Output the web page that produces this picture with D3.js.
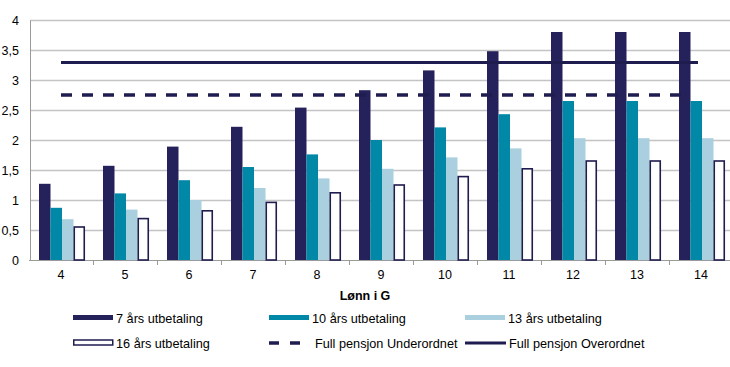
<!DOCTYPE html>
<html>
<head>
<meta charset="utf-8">
<script src="https://cdn.jsdelivr.net/npm/d3@7"></script>
<style>
  body { margin: 0; background: #fff; }
  text { font-family: "Liberation Sans", Arial, sans-serif; fill: #000; }
</style>
</head>
<body>
<div id="chart"></div>
<script>
// Data
var categories = ["4", "5", "6", "7", "8", "9", "10", "11", "12", "13", "14"];
var seriesNames = ["7 års utbetaling", "10 års utbetaling", "13 års utbetaling", "16 års utbetaling"];
var years7  = [1.27, 1.57, 1.89, 2.22, 2.54, 2.83, 3.16, 3.48, 3.80, 3.80, 3.80];
var years10 = [0.87, 1.11, 1.33, 1.55, 1.76, 2.00, 2.21, 2.43, 2.65, 2.65, 2.65];
var years13 = [0.68, 0.84, 1.00, 1.20, 1.36, 1.52, 1.71, 1.86, 2.03, 2.03, 2.03];
var years16 = [0.55, 0.69, 0.82, 0.96, 1.12, 1.25, 1.39, 1.52, 1.65, 1.65, 1.65];
var underordnet = 2.75;
var overordnet = 3.29;
var yTicks = [0, 0.5, 1, 1.5, 2, 2.5, 3, 3.5, 4];

var colors = ["#25215a", "#0088a6", "#aad0e0", "#ffffff"];
var navy = "#1f1c4f";

var W = 730, H = 367;

var svg = d3.select("#chart").append("svg")
    .attr("width", W)
    .attr("height", H);

// Scales
var x = d3.scaleBand()
    .domain(categories)
    .range([29, 733])
    .padding(0);
var x1 = d3.scaleBand()
    .domain(seriesNames)
    .range([10, 56]);
var y = d3.scaleLinear()
    .domain([0, 4])
    .range([260, 20]);

// Gridlines
svg.append("g")
    .selectAll("line")
    .data(yTicks.slice(1))
    .enter().append("line")
    .attr("x1", 30)
    .attr("x2", 730)
    .attr("y1", d => Math.round(y(d)) + 0.5)
    .attr("y2", d => Math.round(y(d)) + 0.5)
    .attr("stroke", "#c4c4c4")
    .attr("stroke-width", 1.5);

// Y axis
var yAxis = svg.append("g")
    .attr("transform", "translate(30,0)")
    .call(d3.axisLeft(y).tickValues(yTicks).tickSize(0).tickPadding(11)
        .tickFormat(d => String(d).replace(".", ",")));
yAxis.select(".domain").attr("stroke", "#9a9a9a");
yAxis.selectAll("text").style("font-size", "12.5px").attr("font-family", null);

// X axis
var xAxis = svg.append("g")
    .attr("transform", "translate(0,260)")
    .call(d3.axisBottom(x).tickSize(0).tickPadding(10));
xAxis.select(".domain").remove();
xAxis.selectAll("text").style("font-size", "12.5px").attr("font-family", null);
svg.append("line")
    .attr("x1", 29).attr("x2", 730)
    .attr("y1", 260.5).attr("y2", 260.5)
    .attr("stroke", "#9a9a9a");
// tick marks at band boundaries
svg.append("g")
    .selectAll("line")
    .data(categories.slice(1))
    .enter().append("line")
    .attr("x1", d => Math.round(x(d)) + 0.5)
    .attr("x2", d => Math.round(x(d)) + 0.5)
    .attr("y1", 260).attr("y2", 265)
    .attr("stroke", "#9a9a9a");

// Bars
var allSeries = [years7, years10, years13, years16];
var groups = svg.append("g")
    .selectAll("g")
    .data(categories)
    .enter().append("g")
    .attr("transform", d => "translate(" + x(d) + ",0)");

groups.selectAll("rect")
    .data((d, i) => seriesNames.map((s, j) => ({ series: s, idx: j, value: allSeries[j][i] })))
    .enter().append("rect")
    .attr("x", d => x1(d.series) + (d.idx == 3 ? 0.75 : 0))
    .attr("width", d => x1.bandwidth() - (d.idx == 3 ? 1.5 : 0))
    .attr("y", d => y(d.value))
    .attr("height", d => y(0) - y(d.value))
    .attr("fill", d => colors[d.idx])
    .attr("stroke", d => d.idx == 3 ? navy : "none")
    .attr("stroke-width", 1.6);

// Reference lines
var xStart = x(categories[0]) + x.bandwidth() / 2;
var xEnd = x(categories[categories.length - 1]) + x.bandwidth() / 2;

svg.append("line")
    .attr("x1", xStart).attr("x2", xEnd - 10)
    .attr("y1", y(underordnet)).attr("y2", y(underordnet))
    .attr("stroke", navy)
    .attr("stroke-width", 3.5)
    .attr("stroke-dasharray", "11,10");

svg.append("line")
    .attr("x1", xStart).attr("x2", xEnd - 3)
    .attr("y1", y(overordnet)).attr("y2", y(overordnet))
    .attr("stroke", navy)
    .attr("stroke-width", 3);

// X axis title
svg.append("text")
    .attr("x", 365)
    .attr("y", 300)
    .attr("text-anchor", "middle")
    .style("font-size", "12.5px")
    .style("font-weight", "bold")
    .text("Lønn i G");

// Legend
var legendItems = [
    { label: seriesNames[0], type: "bar", idx: 0, col: 0, row: 0 },
    { label: seriesNames[1], type: "bar", idx: 1, col: 1, row: 0 },
    { label: seriesNames[2], type: "bar", idx: 2, col: 2, row: 0 },
    { label: seriesNames[3], type: "bar", idx: 3, col: 0, row: 1 },
    { label: "Full pensjon Underordnet", type: "dash", col: 1, row: 1 },
    { label: "Full pensjon Overordnet", type: "line", col: 2, row: 1 }
];
var colX = [73, 269, 465];
var rowY = [318, 343];

var legend = svg.append("g")
    .selectAll("g")
    .data(legendItems)
    .enter().append("g")
    .attr("transform", d => "translate(" + colX[d.col] + "," + rowY[d.row] + ")");

legend.filter(d => d.type == "bar").append("rect")
    .attr("x", d => d.idx == 3 ? 0.75 : 0)
    .attr("y", -3)
    .attr("width", d => d.idx == 3 ? 39 : 40)
    .attr("height", 5)
    .attr("fill", d => colors[d.idx])
    .attr("stroke", d => d.idx == 3 ? navy : "none")
    .attr("stroke-width", 1.5);

legend.filter(d => d.type == "dash").append("line")
    .attr("x1", 0).attr("x2", 31)
    .attr("y1", 0).attr("y2", 0)
    .attr("stroke", navy)
    .attr("stroke-width", 3.5)
    .attr("stroke-dasharray", "10,11");

legend.filter(d => d.type == "line").append("line")
    .attr("x1", 0).attr("x2", 41)
    .attr("y1", 0).attr("y2", 0)
    .attr("stroke", navy)
    .attr("stroke-width", 3);

legend.append("text")
    .attr("x", d => d.type == "dash" ? 46 : (d.type == "line" ? 44 : 43))
    .attr("y", 4.5)
    .style("font-size", "12.7px")
    .text(d => d.label);
</script>
</body>
</html>
